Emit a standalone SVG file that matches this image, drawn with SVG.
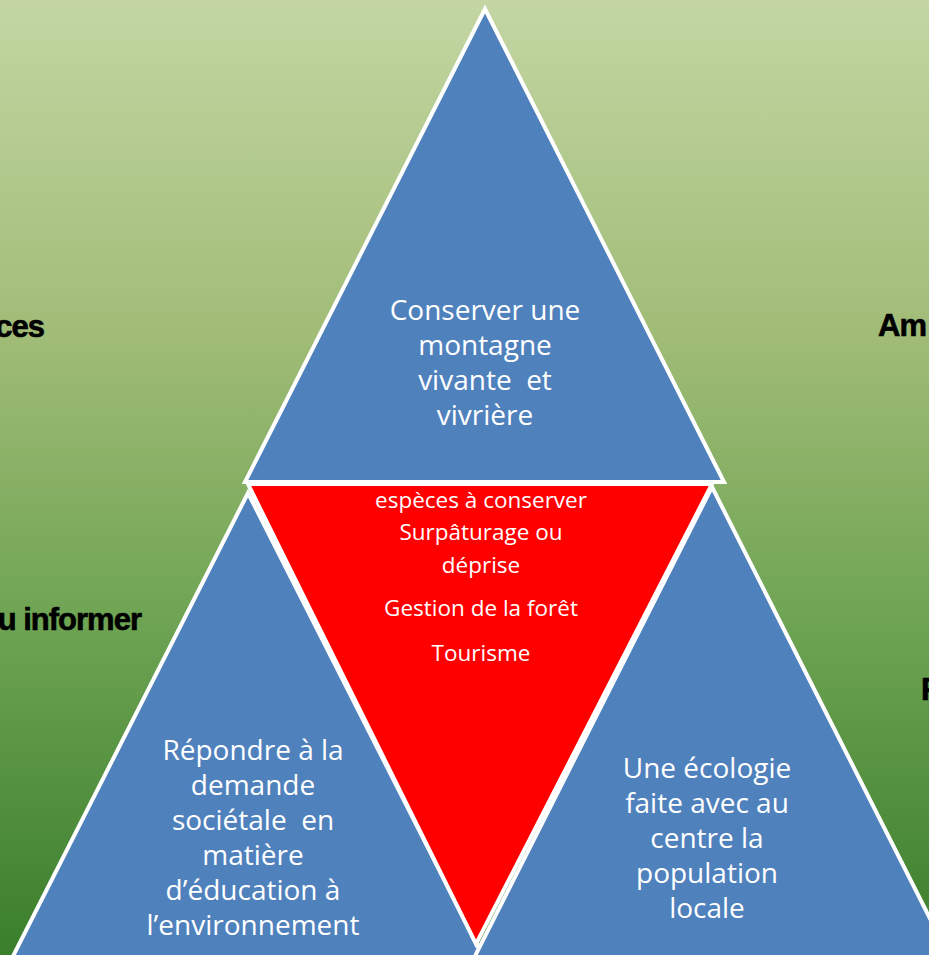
<svg xmlns="http://www.w3.org/2000/svg" width="929" height="955" viewBox="0 0 929 955">
<defs>
<linearGradient id="bg" x1="0" y1="0" x2="0" y2="1">
<stop offset="0" stop-color="#c3d6a3"/>
<stop offset="0.35" stop-color="#a1bc77"/>
<stop offset="0.65" stop-color="#6ea453"/>
<stop offset="1" stop-color="#3a7e2c"/>
</linearGradient>
<style>
.tri{fill:#4f81bd;stroke:#fff;stroke-width:4;stroke-linejoin:miter}
.red{fill:#ff0000;stroke:#fff;stroke-width:4}
.t{font-family:"Open Sans","Noto Sans",sans-serif;fill:#fff;text-anchor:middle;font-size:28px}
.s{font-family:"Open Sans","Noto Sans",sans-serif;fill:#fff;text-anchor:middle;font-size:22.5px}
.b{font-family:"Liberation Sans",Arial,sans-serif;font-weight:bold;fill:#000;font-size:31px;letter-spacing:-1px;stroke:#000;stroke-width:0.6}
</style>
</defs>
<rect x="0" y="0" width="929" height="955" fill="url(#bg)"/>
<g id="side-labels">
<text class="b" x="44" y="337" text-anchor="end">ces</text>
<text class="b" x="141" y="630" text-anchor="end">u informer</text>
<text class="b" x="878" y="336">Am</text>
<text class="b" x="921" y="700">F</text>
</g>
<g id="connectors"></g>
<g id="top">
<polygon class="tri" points="485,9 245,482 724,482"/>
<text class="t" x="485" y="320">Conserver une</text>
<text class="t" x="485" y="355">montagne</text>
<text class="t" x="485" y="390" xml:space="preserve">vivante  et</text>
<text class="t" x="485" y="425">vivrière</text>
</g>
<g id="left">
<polygon class="tri" points="248,493 6,970 490,970"/>
<text class="t" x="253" y="760">Répondre à la</text>
<text class="t" x="253" y="795">demande</text>
<text class="t" x="253" y="830" xml:space="preserve">sociétale  en</text>
<text class="t" x="253" y="865">matière</text>
<text class="t" x="253" y="900">d’éducation à</text>
<text class="t" x="253" y="935">l’environnement</text>
</g>
<g id="right">
<polygon class="tri" points="712,487 472,962 952,962"/>
<text class="t" x="707" y="778">Une écologie</text>
<text class="t" x="707" y="813">faite avec au</text>
<text class="t" x="707" y="848">centre la</text>
<text class="t" x="707" y="883">population</text>
<text class="t" x="707" y="918">locale</text>
</g>
<g id="center">
<polygon class="red" points="248,484 712,484 476,944"/>
<text class="s" x="481" y="508">espèces à conserver</text>
<text class="s" x="481" y="540">Surpâturage ou</text>
<text class="s" x="481" y="573">déprise</text>
<text class="s" x="481" y="616">Gestion de la forêt</text>
<text class="s" x="481" y="661">Tourisme</text>
</g>
</svg>
